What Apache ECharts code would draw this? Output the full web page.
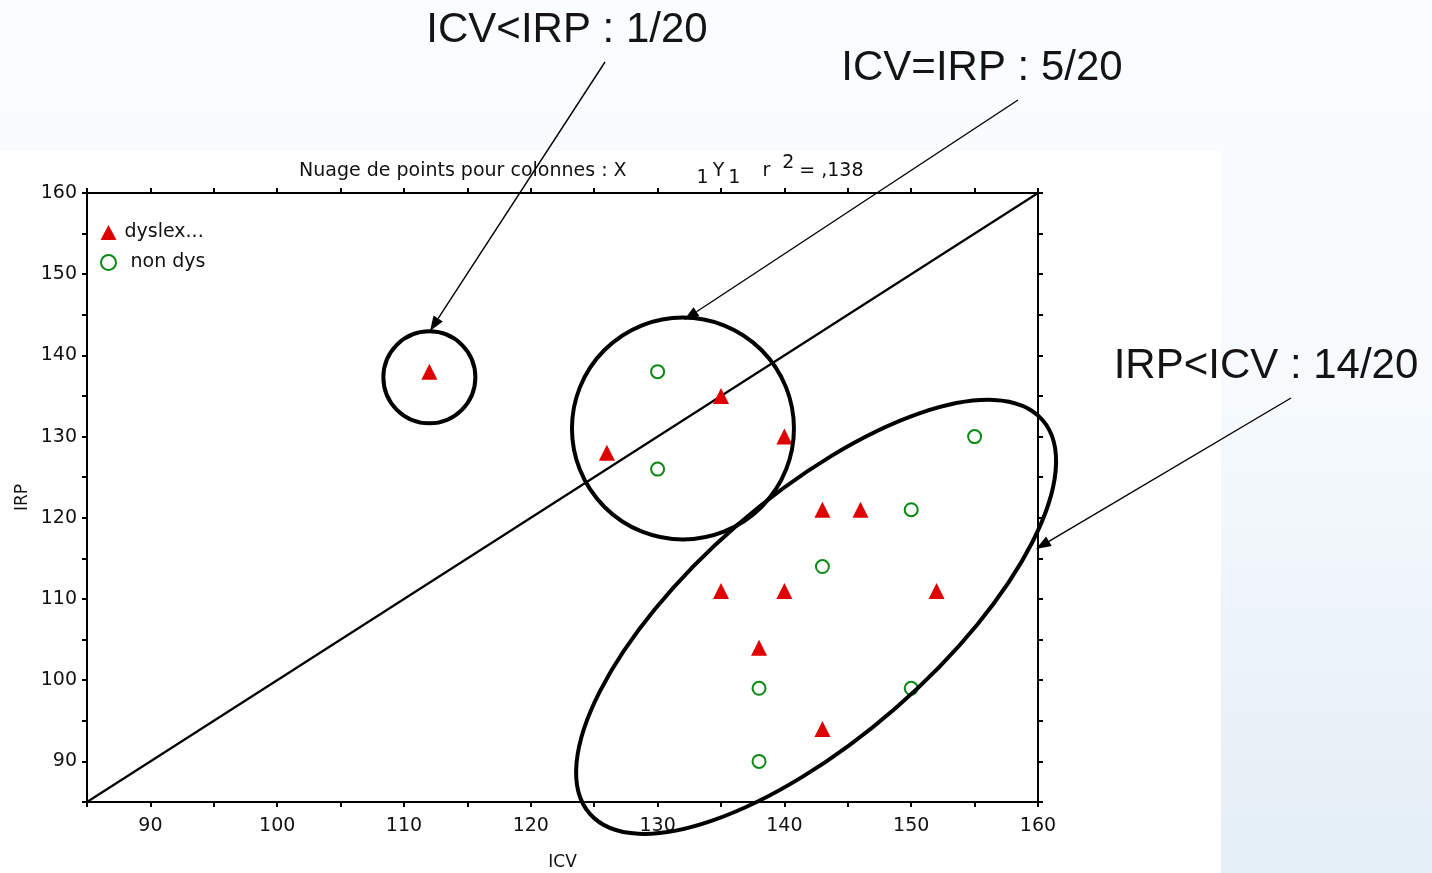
<!DOCTYPE html>
<html>
<head>
<meta charset="utf-8">
<title>Nuage de points ICV / IRP</title>
<script src="https://cdn.jsdelivr.net/npm/echarts@6/dist/echarts.min.js"></script>
<style>
  html, body { margin: 0; padding: 0; }
  #chart { width: 1432px; height: 873px; }
</style>
</head>
<body>
<div id="chart"></div>
<script>
// ICV / IRP scores per pupil, split by group
const dyslexICV = [112, 126, 135, 140, 143, 146, 135, 140, 152, 138, 143];
const dyslexIRP = [138, 128, 135, 130, 121, 121, 111, 111, 111, 104, 94];
const nonDysICV = [130, 130, 155, 150, 143, 138, 150, 138];
const nonDysIRP = [138, 126, 130, 121, 114, 99, 99, 90];

// Axis range and the ICV = IRP reference line
const axisMin = 85;
const axisMax = 160;
const tickStep = 5;
const labelStep = 10;
const identityLine = [[axisMin, axisMin], [axisMax, axisMax]];

const seriesNames = ['dyslex...', 'non dys'];
const groupCounts = ['ICV<IRP : 1/20', 'ICV=IRP : 5/20', 'IRP<ICV : 14/20'];

const FONT = '"DejaVu Sans", "Liberation Sans", sans-serif';
const BIG_FONT = '"Liberation Sans", Arial, sans-serif';
const RED = '#df0000';
const GREEN = '#0a8a14';

const chart = echarts.init(document.getElementById('chart'), null, { renderer: 'canvas' });

function axisBase(position, showLabel) {
  return {
    type: 'value',
    min: axisMin,
    max: axisMax,
    interval: tickStep,
    position: position,
    axisLine: { show: true, onZero: false, lineStyle: { color: '#000', width: 2 } },
    axisTick: { show: true, inside: false, length: 5, lineStyle: { color: '#000', width: 2 } },
    splitLine: { show: false },
    axisLabel: showLabel ? {
      show: true,
      fontFamily: FONT,
      fontSize: 19,
      color: '#111',
      formatter: v => (v % labelStep === 0 ? String(v) : '')
    } : { show: false }
  };
}

const xBottom = Object.assign(axisBase('bottom', true), {
  name: 'ICV', nameLocation: 'middle', nameGap: 52, nameMoveOverlap: false,
  nameTextStyle: { fontFamily: FONT, fontSize: 17, color: '#111' }
});
xBottom.axisLabel.margin = 15;
const yLeft = Object.assign(axisBase('left', true), {
  name: 'IRP', nameLocation: 'middle', nameGap: 56, nameMoveOverlap: false,
  nameTextStyle: { fontFamily: FONT, fontSize: 17, color: '#111' }
});
yLeft.axisLabel.margin = 10;

const pairs = (xs, ys) => xs.map((x, i) => [x, ys[i]]);

const titleTok = { fontFamily: FONT, fontSize: 19, fontWeight: 'normal', color: '#111', lineHeight: 20 };

chart.setOption({
  animation: false,
  backgroundColor: {
    type: 'linear', x: 0, y: 0, x2: 0, y2: 1,
    colorStops: [
      { offset: 0, color: '#fafdfe' },
      { offset: 0.45, color: '#f6fafd' },
      { offset: 1, color: '#e4eef6' }
    ]
  },
  title: {
    left: 299,
    top: 154,
    padding: 0,
    text: '{m|Nuage de points pour colonnes : X}{g1| }{sb|1}{g0| }{m|Y}{g0| }{sb|1}{g2| }{m|r}{g3| }{sp|2}{g4| }{m|= ,138}{h| }',
    textStyle: {
      fontWeight: 'normal',
      rich: {
        m: Object.assign({}, titleTok, { verticalAlign: 'middle' }),
        sb: Object.assign({}, titleTok, { verticalAlign: 'bottom' }),
        sp: Object.assign({}, titleTok, { verticalAlign: 'top' }),
        g0: { width: 4, fontSize: 19 },
        g1: { width: 70, fontSize: 19 },
        g2: { width: 22, fontSize: 19 },
        g3: { width: 12, fontSize: 19 },
        g4: { width: 5, fontSize: 19 },
        h: { width: 1, lineHeight: 34, fontSize: 19 }
      }
    }
  },
  legend: {
    orient: 'vertical',
    left: 100,
    top: 223,
    padding: 0,
    itemWidth: 16,
    itemHeight: 15,
    itemGap: 11,
    textStyle: { fontFamily: FONT, fontSize: 19, color: '#111', padding: [0, 0, 0, 3] },
    formatter: name => (name === seriesNames[1] ? ' ' + name : name),
    data: [
      { name: seriesNames[0], icon: 'triangle' },
      { name: seriesNames[1], icon: 'emptyCircle' }
    ]
  },
  grid: { left: 87, top: 193, width: 951, height: 609, containLabel: false, outerBoundsMode: 'none' },
  xAxis: [xBottom, axisBase('top', false)],
  yAxis: [yLeft, axisBase('right', false)],
  series: [
    {
      name: 'ICV=IRP',
      type: 'line',
      xAxisIndex: 0, yAxisIndex: 0,
      data: identityLine,
      symbol: 'none',
      silent: true,
      z: 1,
      lineStyle: { color: '#000', width: 2.2 }
    },
    {
      name: seriesNames[0],
      type: 'scatter',
      xAxisIndex: 0, yAxisIndex: 0,
      data: pairs(dyslexICV, dyslexIRP),
      symbol: 'triangle',
      symbolSize: [16, 16],
      itemStyle: { color: RED, opacity: 1 }
    },
    {
      name: seriesNames[1],
      type: 'scatter',
      xAxisIndex: 0, yAxisIndex: 0,
      data: pairs(nonDysICV, nonDysIRP),
      symbol: 'emptyCircle',
      symbolSize: 13,
      itemStyle: { color: GREEN, borderColor: GREEN, borderWidth: 2, opacity: 1 }
    }
  ]
});

// Hand-drawn groupings: centres in data units, radii in pixels
const zones = [
  { kind: 'circle', center: [112, 137.3], r: 46 },
  { kind: 'circle', center: [132, 131], r: 111 },
  { kind: 'ellipse', center: [142.5, 107.8], rx: 300, ry: 121, angle: 41 }
];

// Call-out labels with their arrows (page pixels)
const callouts = [
  { text: groupCounts[0], at: [567, 30], from: [605, 62], to: [430, 331] },
  { text: groupCounts[1], at: [982, 68], from: [1018, 100], to: [684, 320] },
  { text: groupCounts[2], at: [1266, 366], from: [1291, 398], to: [1036, 549] }
];

function arrowElements(from, to) {
  const dx = to[0] - from[0], dy = to[1] - from[1];
  const len = Math.sqrt(dx * dx + dy * dy);
  const ux = dx / len, uy = dy / len;
  const headLen = 15, headHalf = 5.5;
  const bx = to[0] - ux * headLen, by = to[1] - uy * headLen;
  return [
    {
      type: 'line', silent: true, z: 120,
      shape: { x1: from[0], y1: from[1], x2: bx, y2: by },
      style: { stroke: '#000', lineWidth: 1.4 }
    },
    {
      type: 'polygon', silent: true, z: 120,
      shape: { points: [[to[0], to[1]], [bx - uy * headHalf, by + ux * headHalf], [bx + uy * headHalf, by - ux * headHalf]] },
      style: { fill: '#000' }
    }
  ];
}

function drawOverlay() {
  const els = [
    {
      type: 'rect', silent: true, z: -10,
      shape: { x: 0, y: 151, width: 1221, height: 722 },
      style: { fill: '#ffffff' }
    }
  ];
  zones.forEach(zn => {
    const p = chart.convertToPixel({ gridIndex: 0 }, zn.center);
    if (zn.kind === 'circle') {
      els.push({
        type: 'circle', silent: true, z: 110,
        shape: { cx: p[0], cy: p[1], r: zn.r },
        style: { fill: 'none', stroke: '#000', lineWidth: 4 }
      });
    } else {
      els.push({
        type: 'ellipse', silent: true, z: 110,
        x: p[0], y: p[1], rotation: zn.angle * Math.PI / 180,
        shape: { cx: 0, cy: 0, rx: zn.rx, ry: zn.ry },
        style: { fill: 'none', stroke: '#000', lineWidth: 4 }
      });
    }
  });
  callouts.forEach(c => {
    els.push({
      type: 'text', silent: true, z: 120,
      style: {
        text: c.text, x: c.at[0], y: c.at[1],
        font: '42px ' + BIG_FONT, fill: '#141414',
        align: 'center', verticalAlign: 'middle',
        textAlign: 'center', textVerticalAlign: 'middle'
      }
    });
    arrowElements(c.from, c.to).forEach(e => els.push(e));
  });
  chart.setOption({ graphic: { elements: els } });
}

drawOverlay();
</script>
</body>
</html>
